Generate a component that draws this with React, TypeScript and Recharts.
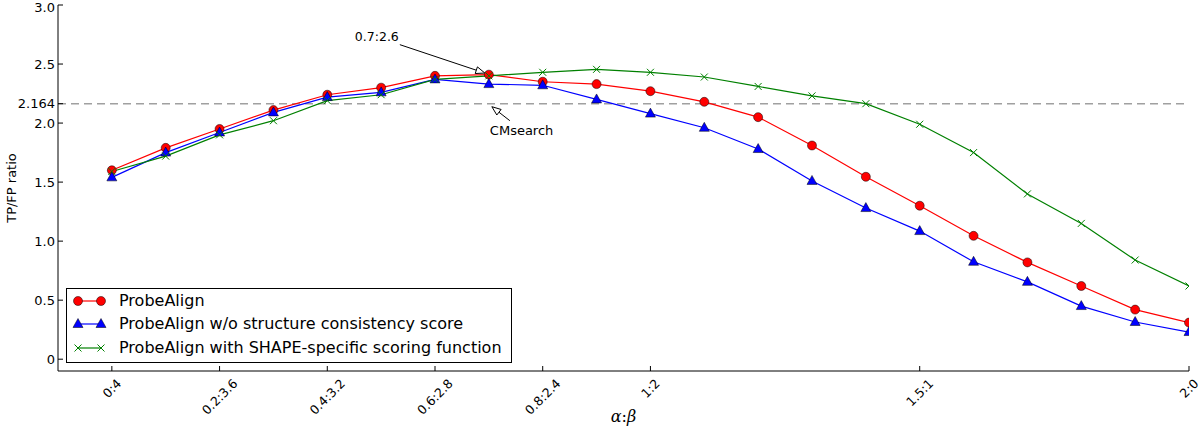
import React from "react";
import {
  LineChart,
  Line,
  XAxis,
  YAxis,
  ReferenceLine,
  ReferenceDot,
  Legend,
} from "recharts";

// alpha:beta settings along the x axis
const alphaBeta = [
  "0:4", "0.1:3.8", "0.2:3.6", "0.3:3.4", "0.4:3.2", "0.5:3", "0.6:2.8",
  "0.7:2.6", "0.8:2.4", "0.9:2.2", "1:2", "1.1:1.8", "1.2:1.6", "1.3:1.4",
  "1.4:1.2", "1.5:1", "1.6:0.8", "1.7:0.6", "1.8:0.4", "1.9:0.2", "2:0",
];

const probeAlign = [
  1.6, 1.79, 1.95, 2.11, 2.24, 2.3, 2.4, 2.41, 2.35, 2.33, 2.27, 2.18, 2.05,
  1.81, 1.545, 1.3, 1.045, 0.82, 0.62, 0.42, 0.31,
];
const noStructure = [
  1.54, 1.75, 1.92, 2.09, 2.22, 2.26, 2.37, 2.33, 2.32, 2.2, 2.08, 1.96, 1.78,
  1.51, 1.28, 1.085, 0.825, 0.655, 0.45, 0.315, 0.23,
];
const shapeSpecific = [
  1.59, 1.72, 1.9, 2.02, 2.19, 2.24, 2.37, 2.4, 2.43, 2.455, 2.43, 2.39, 2.31,
  2.23, 2.164, 1.99, 1.75, 1.4, 1.15, 0.84, 0.62,
];

const cmsearch = 2.164;
const bestIdx = 7;

const xTicks = [0, 2, 4, 6, 8, 10, 15, 20];
const yTicks = [0, 0.5, 1, 1.5, 2, 2.164, 2.5, 3];
const yTickLabels = ["0", "0.5", "1.0", "1.5", "2.0", "2.164", "2.5", "3.0"];

const SERIES = [
  { key: "pa", name: "ProbeAlign", color: "#ff0000", marker: "circle" },
  { key: "ns", name: "ProbeAlign w/o structure consistency score", color: "#0000ff", marker: "triangle" },
  { key: "ss", name: "ProbeAlign with SHAPE-specific scoring function", color: "#008000", marker: "x" },
];

const data = alphaBeta.map((label, i) => ({
  i,
  label,
  pa: probeAlign[i],
  ns: noStructure[i],
  ss: shapeSpecific[i],
}));

const FONT = "DejaVu Sans";

const textWidth = (s: string, size: number) =>
  s.split("").reduce((w, c) => w + (c === "." ? 0.318 : c === ":" ? 0.337 : 0.636), 0) * size;

const Marker = ({ type, cx, cy, color }: any) => {
  if (type === "circle")
    return <circle cx={cx} cy={cy} r={4.5} fill={color} stroke="#000" strokeWidth={0.5} />;
  if (type === "triangle")
    return (
      <polygon
        points={`${cx},${cy - 5.5} ${cx - 5},${cy + 3.5} ${cx + 5},${cy + 3.5}`}
        fill={color}
        stroke="#000"
        strokeWidth={0.5}
      />
    );
  return (
    <g stroke={color} strokeWidth={1}>
      <line x1={cx - 3.5} y1={cy - 3.5} x2={cx + 3.5} y2={cy + 3.5} />
      <line x1={cx - 3.5} y1={cy + 3.5} x2={cx + 3.5} y2={cy - 3.5} />
    </g>
  );
};

const BottomTick = ({ x, y, payload }: any) => {
  const label = alphaBeta[payload.value];
  const L = textWidth(label, 12.5);
  const cy = y + 6 + (L / 2 + 6) * 0.707;
  return (
    <g>
      <line x1={x} y1={y} x2={x} y2={y - 5} stroke="#000" />
      <text
        x={x}
        y={cy}
        textAnchor="middle"
        dominantBaseline="central"
        transform={`rotate(-45 ${x} ${cy})`}
        fontSize={12.5}
        fontFamily={FONT}
        fill="#000"
      >
        {label}
      </text>
    </g>
  );
};

const TopTick = ({ x, y }: any) => <line x1={x} y1={y} x2={x} y2={y + 5} stroke="#000" />;

const LeftTick = ({ x, y, payload }: any) => {
  const idx = yTicks.indexOf(payload.value);
  // keep the topmost label inside the picture
  const ty = idx === yTicks.length - 1 ? y + 2 : y;
  return (
    <g>
      <line x1={x} y1={y} x2={x + 5} y2={y} stroke="#000" />
      <text
        x={x - 3}
        y={ty}
        textAnchor="end"
        dominantBaseline="central"
        fontSize={13}
        fontFamily={FONT}
        fill="#000"
      >
        {yTickLabels[idx]}
      </text>
    </g>
  );
};

const RightTick = ({ x, y }: any) => <line x1={x} y1={y} x2={x - 5} y2={y} stroke="#000" />;

const Arrow = ({ x1, y1, x2, y2 }: any) => {
  const ang = Math.atan2(y2 - y1, x2 - x1);
  const len = 9;
  const hw = 3.5;
  const bx = x2 - len * Math.cos(ang);
  const by = y2 - len * Math.sin(ang);
  const px = -Math.sin(ang) * hw;
  const py = Math.cos(ang) * hw;
  return (
    <g>
      <line x1={x1} y1={y1} x2={bx} y2={by} stroke="#000" strokeWidth={1} />
      <polygon
        points={`${x2},${y2} ${bx + px},${by + py} ${bx - px},${by - py}`}
        fill="#fff"
        stroke="#000"
        strokeWidth={1}
      />
    </g>
  );
};

const LegendBox = () => (
  <div
    style={{
      border: "1px solid #000",
      background: "#fff",
      width: 446,
      height: 75,
      boxSizing: "border-box",
      fontFamily: FONT,
      fontSize: 16,
      color: "#000",
    }}
  >
    {SERIES.map((s) => (
      <div key={s.key} style={{ display: "flex", alignItems: "center", height: 23.5 }}>
        <svg width={52} height={22} style={{ display: "block" }}>
          <line x1={11} y1={11} x2={34} y2={11} stroke={s.color} strokeWidth={1.2} />
          <Marker type={s.marker} cx={11} cy={11} color={s.color} />
          <Marker type={s.marker} cx={34} cy={11} color={s.color} />
        </svg>
        <span style={{ whiteSpace: "nowrap", lineHeight: "16px" }}>{s.name}</span>
      </div>
    ))}
  </div>
);

export default function App() {
  return (
    <div
      style={{
        position: "absolute",
        left: 0,
        top: 0,
        width: 1200,
        height: 434,
        background: "#fff",
        fontFamily: FONT,
      }}
    >
      <LineChart
        width={1200}
        height={434}
        data={data}
        margin={{ top: 5, right: 11, left: 0, bottom: 0 }}
      >
        <XAxis
          dataKey="i"
          type="number"
          domain={[-1, 20]}
          allowDataOverflow
          ticks={xTicks}
          interval={0}
          height={63}
          tickSize={0}
          tickMargin={0}
          tickLine={false}
          axisLine={{ stroke: "#000" }}
          tick={<BottomTick />}
          label={(p: any) => {
            const vb = p.viewBox;
            return (
              <text
                x={vb.x + vb.width / 2}
                y={vb.y + 51}
                textAnchor="middle"
                fontSize={16}
                fontFamily="DejaVu Serif"
                fontStyle="italic"
                fill="#000"
              >
                α<tspan fontStyle="normal">:</tspan>β
              </text>
            );
          }}
        />
        <XAxis
          xAxisId="top"
          orientation="top"
          dataKey="i"
          type="number"
          domain={[-1, 20]}
          allowDataOverflow
          ticks={xTicks}
          interval={0}
          height={0}
          tickSize={0}
          tickMargin={0}
          tickLine={false}
          axisLine={{ stroke: "#000" }}
          tick={<TopTick />}
        />
        <YAxis
          type="number"
          domain={[-0.1, 3]}
          allowDataOverflow
          ticks={yTicks}
          interval={0}
          width={58}
          tickSize={0}
          tickMargin={0}
          tickLine={false}
          axisLine={{ stroke: "#000" }}
          tick={<LeftTick />}
          label={(p: any) => {
            const vb = p.viewBox;
            const cx = 11;
            const cy = vb.y + vb.height / 2;
            return (
              <text
                x={cx}
                y={cy}
                textAnchor="middle"
                dominantBaseline="central"
                transform={`rotate(-90 ${cx} ${cy})`}
                fontSize={13}
                fontFamily={FONT}
                fill="#000"
              >
                TP/FP ratio
              </text>
            );
          }}
        />
        <YAxis
          yAxisId="right"
          orientation="right"
          type="number"
          domain={[-0.1, 3]}
          allowDataOverflow
          ticks={yTicks}
          interval={0}
          width={0}
          tickSize={0}
          tickMargin={0}
          tickLine={false}
          axisLine={{ stroke: "#000" }}
          tick={<RightTick />}
        />
        <ReferenceLine
          y={cmsearch}
          stroke="#a0a0a0"
          strokeWidth={1.6}
          strokeDasharray="8 5"
        />
        {SERIES.map((s) => (
          <Line
            key={s.key}
            dataKey={s.key}
            name={s.name}
            stroke={s.color}
            strokeWidth={1.2}
            isAnimationActive={false}
            dot={(p: any) => (
              <Marker key={`${s.key}-${p.index}`} type={s.marker} cx={p.cx} cy={p.cy} color={s.color} />
            )}
            activeDot={false}
          />
        ))}
        <ReferenceDot
          x={bestIdx}
          y={probeAlign[bestIdx]}
          r={0}
          shape={(p: any) => (
            <g>
              <Arrow x1={p.cx - 89} y1={p.cy - 30} x2={p.cx - 4} y2={p.cy - 1.6} />
              <text x={p.cx - 134} y={p.cy - 34} fontSize={12.5} fontFamily={FONT} fill="#000">
                {alphaBeta[bestIdx]}
              </text>
            </g>
          )}
        />
        <ReferenceDot
          x={bestIdx}
          y={cmsearch}
          r={0}
          shape={(p: any) => (
            <g>
              <Arrow x1={p.cx + 21} y1={p.cy + 17} x2={p.cx + 3} y2={p.cy + 3} />
              <text x={p.cx + 1} y={p.cy + 31} fontSize={13} fontFamily={FONT} fill="#000">
                CMsearch
              </text>
            </g>
          )}
        />
        <Legend
          layout="vertical"
          align="center"
          verticalAlign="middle"
          wrapperStyle={{ left: 66, top: 288, width: 446, height: 75 }}
          content={() => <LegendBox />}
        />
      </LineChart>
    </div>
  );
}
